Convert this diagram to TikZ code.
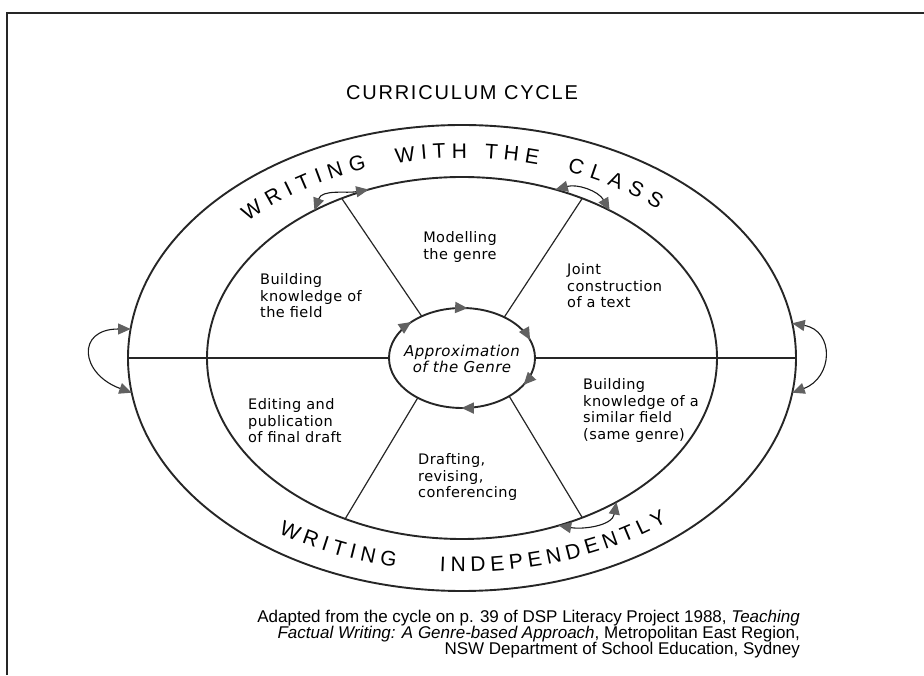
\documentclass[tikz,border=0pt]{standalone}
\usepackage{fontspec}
\usetikzlibrary{arrows.meta,shapes.geometric,decorations.text,decorations.markings}
\newfontfamily\ringfont{Liberation Sans}
\newfontfamily\titlefont[LetterSpace=9]{Liberation Sans}
\newfontfamily\labelfont[LetterSpace=3]{DejaVu Sans}
\newfontfamily\capfont{Liberation Sans}
\tikzset{
  ringline/.style={line width=1.9pt, draw=black!85},
  spokeline/.style={line width=1.2pt, draw=black!85},
  ovalshape/.style={ellipse, inner sep=0pt, outer sep=0pt},
  headtip/.tip={Triangle[length=12.5pt,width=11pt,fill=black!62,color=black!62]},
  dblarrow/.style={line width=1.1pt, draw=black!90, headtip-headtip},
  sectlabel/.style={font=\labelfont\fontsize{14.5}{16.8}\selectfont, inner sep=0pt, align=left, anchor=north west},
  ringtext/.style={decorate, decoration={text along path, text align={fit to path}}},
}
\begin{document}
\begin{tikzpicture}[x=1pt,y=1pt]
\useasboundingbox (0,0) rectangle (924,675);
% frame
\draw[line width=2pt, black!85] (7,0) -- (7,662) -- (924,662);

% title
\node[font=\titlefont\fontsize{20}{24}\selectfont] (title) at (462,582) {CURRICULUM CYCLE};

% ellipses
\node[ovalshape, ringline, minimum width=668pt, minimum height=466pt] (outer) at (462,317) {};
\node[ovalshape, ringline, minimum width=510pt, minimum height=362pt] (inner) at (462,317) {};
\node[ovalshape, minimum width=146pt, minimum height=100pt] (hub) at (462,317) {};
\draw[ringline, postaction={decorate}, decoration={markings,
    mark=at position 30pt with {\arrow{headtip}},
    mark=at position 98pt with {\arrow{headtip}},
    mark=at position 239pt with {\arrow{headtip}},
    mark=at position 298pt with {\arrow{headtip}},
    mark=at position 371pt with {\arrow{headtip}}}]
  (535,317) arc[start angle=0, end angle=-360, x radius=73, y radius=50];

% spokes and horizontal line
\draw[spokeline] (outer.180) -- (hub.180);
\draw[spokeline] (hub.0) -- (outer.0);
\draw[spokeline] (inner.127) -- (hub.134);
\draw[spokeline] (inner.53) -- (hub.44);
\draw[spokeline] (inner.234) -- (hub.222);
\draw[spokeline] (inner.307) -- (hub.321);

% curved double arrows
\coordinate (a1) at (inner.135);
\coordinate (a2) at (inner.119);
\coordinate (b1) at (inner.61);
\coordinate (b2) at (inner.45);
\coordinate (c1) at (outer.175);
\coordinate (c2) at (outer.186);
\coordinate (d1) at (outer.6);
\coordinate (d2) at (outer.354);
\coordinate (e1) at (inner.300);
\coordinate (e2) at (inner.317);
\draw[dblarrow] (a1) to[out=70, in=190] (a2);
\draw[dblarrow] (b1) to[out=15, in=120] (b2);
\draw[dblarrow] (c1) to[out=180, in=160, looseness=2.2] (c2);
\draw[dblarrow] (d1) to[out=-10, in=20, looseness=1.6] (d2);
\draw[dblarrow] (e1) to[out=-10, in=-100] (e2);

% ring texts
\begin{scope}[shift={(462,317)}]
\path[ringtext, decoration={text={|\ringfont\fontsize{21}{21}\selectfont|WRITING}}]
  (137:293 and 200) arc[start angle=137, end angle=109, x radius=293, y radius=200];
\path[ringtext, decoration={text={|\ringfont\fontsize{21}{21}\selectfont|WITH THE}}]
  (103:293 and 200) arc[start angle=103, end angle=75, x radius=293, y radius=200];
\path[ringtext, decoration={text={|\ringfont\fontsize{21}{21}\selectfont|CLASS}}]
  (69:293 and 200) arc[start angle=69, end angle=48, x radius=293, y radius=200];
\end{scope}
\begin{scope}[shift={(462,319)}]
\path[ringtext, decoration={text={|\ringfont\fontsize{21}{21}\selectfont|WRITING}}]
  (235:320 and 216) arc[start angle=235, end angle=258, x radius=320, y radius=216];
\path[ringtext, decoration={text={|\ringfont\fontsize{21}{21}\selectfont|INDEPENDENTLY}}]
  (266:320 and 216) arc[start angle=266, end angle=310, x radius=320, y radius=216];
\end{scope}

% section labels
\node[sectlabel, align=center, anchor=north] (model) at (460,444) {Modelling\\the genre};
\node[sectlabel] (bkf) at (260,402) {Building\\knowledge of\\the field};
\node[sectlabel] (joint) at (567,412) {Joint\\construction\\of a text};
\node[sectlabel] (edit) at (248,277) {Editing and\\publication\\of final draft};
\node[sectlabel] (bks) at (583,297) {Building\\knowledge of a\\similar field\\(same genre)};
\node[sectlabel] (draft) at (418,222) {Drafting,\\revising,\\conferencing};
\node[font=\labelfont\itshape\fontsize{15}{16}\selectfont, align=center, inner sep=0pt] (hubtext) at (462,316) {Approximation\\of the Genre};

% caption
\node[font=\capfont\fontsize{17}{16}\selectfont, align=right, anchor=north east, inner sep=0pt] (caption) at (800,65)
  {Adapted from the cycle on p. 39 of DSP Literacy Project 1988, \textit{Teaching}\\
   \textit{Factual Writing: A Genre-based Approach}, Metropolitan East Region,\\
   NSW Department of School Education, Sydney};
\end{tikzpicture}
\end{document}
